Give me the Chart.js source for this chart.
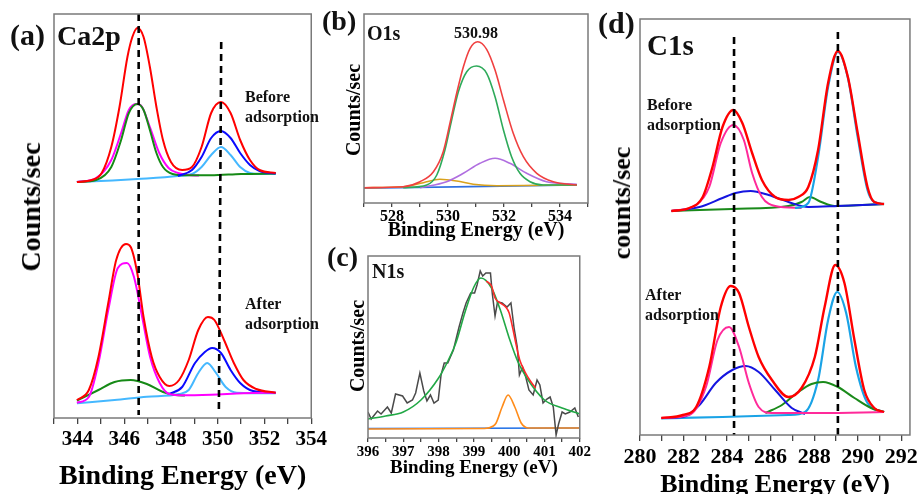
<!DOCTYPE html>
<html>
<head>
<meta charset="utf-8">
<script src="https://cdn.jsdelivr.net/npm/chart.js@4"></script>
<style>
  body { margin: 0; width: 921px; height: 494px; overflow: hidden; background: #fff; position: relative; }
  canvas { position: absolute; }
  .lbl { position: absolute; font-family: 'Liberation Serif', serif; font-weight: bold; white-space: nowrap; line-height: 1; color: #111; }
</style>
</head>
<body>
<canvas id="chart-ca" width="330" height="494" style="left:0;top:0"></canvas>
<canvas id="chart-o" width="262" height="242" style="left:330px;top:0"></canvas>
<canvas id="chart-n" width="256" height="254" style="left:336px;top:240px"></canvas>
<canvas id="chart-c" width="331" height="500" style="left:590px;top:0"></canvas>
<script>
// ==================== DATA ====================
// (a) Ca2p — [binding energy, counts] (arbitrary offset units)
const caTicks = [343, 344, 345, 346, 347, 348, 349, 350, 351, 352, 353, 354];
const caBeforeTotal = [[343.98,236],[344.62,238],[345.04,245],[345.45,271],[345.8,311],[346.14,361],[346.35,381],[346.57,390],[346.83,381],[347.1,351],[347.38,311],[347.66,278],[348.0,256],[348.48,248],[348.9,251],[349.31,271],[349.72,305],[350.14,316],[350.55,305],[350.96,278],[351.38,258],[351.79,248],[352.48,245]];
const caBeforeP1 = [[343.98,236],[344.8,240],[345.45,258],[345.87,285],[346.2,308],[346.5,314],[346.7,313],[347.1,291],[347.5,265],[347.9,250],[348.3,245],[348.7,243],[349.2,242.5]];
const caBeforeP2 = [[343.98,236],[344.8,238],[345.45,251],[345.87,278],[346.2,305],[346.57,314],[346.83,308],[347.1,288],[347.38,265],[347.66,251],[348.07,244],[348.6,242.7],[349.7,242.7],[351.0,244],[352.48,244.5]];
const caBeforeP3 = [[348.3,242],[348.9,248],[349.31,261],[349.72,280],[350.14,287],[350.55,280],[350.96,265],[351.38,253],[351.79,247],[352.48,244.5]];
const caBeforeP4 = [[343.98,236],[345.5,237.5],[346.57,239],[348.3,242],[348.9,244],[349.31,251],[349.72,263],[350.14,271],[350.55,263],[350.96,251],[351.38,245],[351.79,244],[352.48,244]];
const caAfterTotal = [[343.98,18],[344.49,28],[344.9,61],[345.32,115],[345.66,158],[346.08,174],[346.28,171],[346.56,145],[346.83,101],[347.18,61],[347.52,41],[347.93,32],[348.35,38],[348.76,58],[349.17,88],[349.58,101],[349.86,98],[350.27,78],[350.69,55],[351.1,38],[351.65,29],[352.48,25.3]];
const caAfterP1 = [[343.98,15.3],[344.49,21],[344.9,55],[345.32,108],[345.73,150],[346.12,155],[346.42,141],[346.77,101],[347.11,61],[347.52,35],[347.93,24],[348.48,22.7],[349.72,23.3],[351.1,24.7],[352.48,25.3]];
const caAfterP2 = [[343.98,17.3],[344.9,28],[345.59,36],[346.28,38],[346.97,34],[347.66,26],[348.21,23],[348.6,22.5]];
const caAfterP3 = [[347.93,24],[348.48,31],[349.03,55],[349.45,66],[349.76,70],[350.14,65],[350.55,48],[350.96,35],[351.51,27],[352.48,25.3]];
const caAfterP4 = [[343.98,14.7],[345.59,18],[346.97,21.3],[348.35,24],[348.76,28],[349.17,45],[349.55,55],[349.93,45],[350.34,31],[350.82,25.3],[352.48,24.7]];
const caMarkLeft = [[346.62,404],[346.62,3]];
const caMarkRight = [[350.15,376],[350.05,8]];

// (b) O1s
const oTicks = [527, 528, 529, 530, 531, 532, 533, 534, 535];
const oTotal = [[527.0,15.3],[528.4,16.3],[529.0,21.3],[529.48,31.3],[529.83,51.3],[530.07,79.7],[530.31,109.7],[530.55,136.3],[530.79,154.7],[531.06,161.3],[531.38,153.7],[531.68,133],[531.98,103],[532.33,69.7],[532.69,46.3],[533.17,29.7],[533.76,21.3],[534.6,18]];
const oLattice = [[528.4,15.3],[529.24,18],[529.6,28],[529.89,53],[530.13,83],[530.37,111.3],[530.67,131.3],[531.02,137],[531.38,129.7],[531.68,106.3],[531.98,73],[532.27,46.3],[532.57,29.7],[532.93,21.3],[533.4,18],[534.6,18]];
const oHydroxyl = [[529.0,15.3],[529.95,21.3],[530.55,29.7],[531.14,39.7],[531.68,44.7],[532.21,39.7],[532.81,29.7],[533.52,21.3],[534.6,18.7]];
const oLow = [[527.0,15.3],[528.4,16.3],[529.12,20.3],[529.71,23.7],[530.31,22],[530.9,18.7],[531.74,17.3],[534.6,18]];
const oBase = [[527.0,14.7],[534.6,18]];

// (c) N1s
const nTicks = [396, 396.5, 397, 397.5, 398, 398.5, 399, 399.5, 400, 400.5, 401, 401.5, 402];
const nRaw = [[396.0,26],[396.09,19],[396.27,27],[396.37,24],[396.55,31],[396.66,25],[396.78,44],[396.98,42],[397.11,35],[397.26,38],[397.35,45],[397.47,65],[397.58,47],[397.67,37],[397.77,43],[397.87,35],[397.99,38],[398.07,63],[398.16,75],[398.26,75],[398.42,88],[398.51,101],[398.58,111],[398.69,125],[398.78,135],[398.91,145],[399.02,145],[399.09,153],[399.18,167],[399.25,162],[399.34,165],[399.47,165],[399.52,145],[399.6,122],[399.67,136],[399.8,135],[399.94,131],[400.05,135],[400.14,110],[400.23,91],[400.29,63],[400.38,71],[400.47,61],[400.56,48],[400.68,43],[400.79,58],[400.87,53],[400.96,35],[401.07,39],[401.16,41],[401.25,31],[401.33,3],[401.4,14],[401.5,26],[401.59,24],[401.72,26],[401.86,30],[401.96,21]];
const nFitMain = [[396.0,19],[396.5,22],[397.0,26],[397.5,38],[398.0,60],[398.25,76],[398.5,96],[398.75,126],[399.0,151],[399.2,160],[399.5,150],[399.75,128],[400.0,100],[400.25,76],[400.5,60],[401.0,38],[401.5,30],[402.0,24]];
const nEnvelope = [[399.35,157],[399.5,152],[399.6,140],[399.75,135],[399.9,131],[400.0,125],[400.1,110],[400.2,93],[400.3,78],[400.45,66],[400.6,57],[400.75,50]];
const nFitMinor = [[396.0,9],[399.3,9.5],[399.55,12],[399.63,15],[399.8,31],[399.97,43],[400.16,31],[400.34,15],[400.45,11],[400.55,10],[402.0,10]];
const nBase = [[396.0,9.5],[402.0,10]];

// (d) C1s
const cTicks = [280, 281, 282, 283, 284, 285, 286, 287, 288, 289, 290, 291, 292];
const cBeforeTotal = [[281.44,224],[282.27,227],[282.88,238],[283.33,268],[283.79,308],[284.29,325],[284.7,312],[285.15,282],[285.6,255],[286.21,238],[286.82,235],[287.27,238],[287.73,248],[288.18,285],[288.64,352],[289.09,384],[289.55,358],[290.0,302],[290.45,248],[290.76,233],[291.21,231]];
const cBeforeP1 = [[281.44,224],[282.58,230],[283.18,248],[283.71,292],[284.29,310],[284.77,295],[285.15,262],[285.6,238],[286.21,229],[287.42,227]];
const cBeforeP2 = [[281.44,224],[282.73,228],[283.79,237],[284.39,242],[285.08,244],[285.91,240],[286.82,233],[287.73,228],[289.09,229],[291.21,231]];
const cBeforeP3 = [[281.44,224],[284.24,226],[286.82,229],[287.42,233],[287.8,238],[288.33,233],[288.94,229],[291.21,231]];
const cBeforeP4 = [[287.12,227],[287.73,232],[288.18,278],[288.64,348],[289.09,383],[289.55,357],[290.0,298],[290.45,245],[290.76,233],[291.21,231]];
const cAfterTotal = [[280.98,17],[281.97,20],[282.58,28],[283.18,68],[283.71,128],[284.17,149],[284.55,142],[285.0,108],[285.45,78],[286.06,55],[286.82,38],[287.42,47],[288.03,78],[288.48,128],[288.97,170],[289.39,152],[289.85,95],[290.3,45],[290.76,27],[291.21,23]];
const cAfterP1 = [[280.98,17],[282.27,20],[283.03,48],[283.56,95],[284.09,108],[284.55,88],[285.0,52],[285.45,28],[286.06,22],[288.33,22],[291.21,23]];
const cAfterP2 = [[280.98,17],[281.97,18],[282.73,30],[283.48,52],[284.24,65],[284.85,69],[285.45,63],[286.21,45],[286.97,27],[287.58,21]];
const cAfterP3 = [[285.76,22],[286.52,30],[287.27,43],[287.88,51],[288.41,53],[289.09,48],[289.85,37],[290.61,27],[291.21,23]];
const cAfterP4 = [[280.98,16.7],[283.79,18],[286.82,20],[287.58,23],[288.18,55],[288.64,115],[289.06,143],[289.47,122],[289.92,68],[290.45,32],[291.21,23]];
const cMarkLeft = [[284.32,398],[284.32,0]];
const cMarkRight = [[289.09,403],[289.09,0]];

// ==================== HELPERS ====================
const SERIF = "'Liberation Serif', 'Times New Roman', serif";

const framePlugin = {
  id: 'frame',
  afterDraw(chart) {
    const { ctx, chartArea: a } = chart;
    ctx.save();
    ctx.strokeStyle = '#7a7a7a';
    ctx.lineWidth = 1.5;
    ctx.strokeRect(a.left, a.top, a.right - a.left, a.bottom - a.top);
    ctx.restore();
  }
};

function curve(points, color, width = 2) {
  return {
    data: points.map(([x, y]) => ({ x, y })),
    borderColor: color,
    borderWidth: width,
    pointRadius: 0,
    fill: false,
    cubicInterpolationMode: 'monotone'
  };
}

function jagged(points, color, width = 1.6) {
  return { ...curve(points, color, width), cubicInterpolationMode: 'default', tension: 0 };
}

function dashed(points) {
  return { ...jagged(points, '#000', 2.6), borderDash: [7, 5] };
}

function makePanel(canvasId, cfg, datasets) {
  const font = (size, lineHeight = 1) => ({ family: SERIF, weight: 'bold', size, lineHeight });
  return new Chart(document.getElementById(canvasId), {
    type: 'line',
    data: { datasets },
    options: {
      responsive: false,
      animation: false,
      layout: { padding: cfg.pad },
      plugins: { legend: { display: false }, tooltip: { enabled: false } },
      scales: {
        x: {
          type: 'linear',
          min: cfg.xmin,
          max: cfg.xmax,
          afterBuildTicks: s => { s.ticks = cfg.ticks.map(v => ({ value: v })); },
          ticks: {
            autoSkip: false,
            maxRotation: 0,
            color: '#000',
            padding: cfg.tickPad,
            font: font(cfg.tickSize, 1.2),
            callback: v => (cfg.labelled(v) ? String(v) : '')
          },
          grid: { drawOnChartArea: false, tickLength: cfg.tickLen, color: '#444', lineWidth: 1.3 },
          border: { display: false },
          title: {
            display: true, text: 'Binding Energy (eV)', color: '#000',
            font: font(cfg.xTitleSize), padding: { top: 0, bottom: cfg.xTitlePad }
          },
          afterFit: s => { s.height = cfg.xh; }
        },
        y: {
          min: 0,
          max: cfg.ymax,
          ticks: { display: false },
          grid: { display: false },
          border: { display: false },
          afterFit: s => { s.width = cfg.yw; }
        }
      }
    },
    plugins: [framePlugin]
  });
}

const even = v => v % 2 === 0;
const whole = v => Number.isInteger(v);

// ==================== PANELS ====================
makePanel('chart-ca', {
  pad: { top: 14, right: 10, left: 0, bottom: 0 }, xh: 76, yw: 54,
  xmin: 343, xmax: 354, ymax: 404, ticks: caTicks, labelled: even,
  tickSize: 21, tickPad: 3, tickLen: 6, xTitleSize: 28, xTitlePad: 3
}, [
  dashed(caMarkLeft), dashed(caMarkRight),
  curve(caBeforeTotal, '#ff0000'), curve(caBeforeP3, '#0a0aff'), curve(caBeforeP2, '#168a16'),
  curve(caBeforeP1, '#ff00ff'), curve(caBeforeP4, '#45b8ff'),
  curve(caAfterTotal, '#ff0000'), curve(caAfterP1, '#ff00ff'), curve(caAfterP3, '#0a0aff'),
  curve(caAfterP2, '#168a16'), curve(caAfterP4, '#45b8ff')
]);

makePanel('chart-o', {
  pad: { top: 14, right: 4, left: 0, bottom: 0 }, xh: 39, yw: 34,
  xmin: 527, xmax: 535, ymax: 189, ticks: oTicks, labelled: even,
  tickSize: 16, tickPad: 0, tickLen: 4, xTitleSize: 20, xTitlePad: 1
}, [
  curve(oTotal, '#f04040', 1.6), curve(oLattice, '#2eaa5a', 1.6), curve(oHydroxyl, '#b06ee0', 1.6),
  curve(oLow, '#d9a21c', 1.6), curve(oBase, '#2f6fe0', 1.6)
]);

makePanel('chart-n', {
  pad: { top: 16, right: 0, left: 0, bottom: 0 }, xh: 56, yw: 32,
  xmin: 396, xmax: 402, ymax: 182, ticks: nTicks, labelled: whole,
  tickSize: 15, tickPad: 1, tickLen: 4, xTitleSize: 19, xTitlePad: 16
}, [
  curve(nEnvelope, '#ff2a2a', 1.6), curve(nFitMain, '#22a846', 1.6), jagged(nRaw, '#4a4a4a', 1.5),
  curve(nFitMinor, '#ff8c1a', 1.6), curve(nBase, '#1f6fe6', 1.6)
]);

makePanel('chart-c', {
  pad: { top: 19, right: 8, left: 0, bottom: 0 }, xh: 65, yw: 50,
  xmin: 280, xmax: 292.4, ymax: 416, ticks: cTicks, labelled: even,
  tickSize: 22, tickPad: 3, tickLen: 6, xTitleSize: 26, xTitlePad: 2
}, [
  dashed(cMarkLeft), dashed(cMarkRight),
  curve(cBeforeTotal, '#ff0000', 2.4), curve(cBeforeP4, '#1aa3e6', 2.2), curve(cBeforeP1, '#ff2a9a'),
  curve(cBeforeP2, '#1515e0'), curve(cBeforeP3, '#1a8a1a'),
  curve(cAfterTotal, '#ff0000', 2.4), curve(cAfterP1, '#ff2a9a'), curve(cAfterP2, '#1515e0'),
  curve(cAfterP3, '#1a8a1a'), curve(cAfterP4, '#1aa3e6', 2.2)
]);

// ==================== PANEL TEXT ====================
// [text, left x, baseline y, font size, centred]
const labels = [
  ['(a)', 10, 45, 30], ['Ca2p', 57, 46, 28],
  ['Before', 245, 102, 16], ['adsorption', 245, 122, 16],
  ['After', 245, 309, 16], ['adsorption', 245, 329, 16],
  ['(b)', 322, 31, 28], ['O1s', 367, 40, 20], ['530.98', 476, 38, 16, true],
  ['(c)', 327, 267, 28], ['N1s', 372, 278, 20],
  ['(d)', 598, 33, 30], ['C1s', 647, 55, 29],
  ['Before', 647, 110, 16], ['adsorption', 647, 130, 16],
  ['After', 645, 300, 16], ['adsorption', 645, 320, 16]
];
labels.forEach(([text, x, base, size, centred]) => {
  const el = document.createElement('div');
  el.className = 'lbl';
  el.textContent = text;
  el.style.fontSize = size + 'px';
  el.style.top = (base - 0.84 * size) + 'px';
  el.style.left = x + 'px';
  if (centred) el.style.transform = 'translateX(-50%)';
  document.body.appendChild(el);
});

// rotated y-axis titles: [text, centre x, centre y, font size]
const yTitles = [
  ['Counts/sec', 31, 207, 28],
  ['Counts/sec', 353, 110, 20],
  ['Counts/sec', 357, 346, 20],
  ['counts/sec', 622, 203, 26]
];
yTitles.forEach(([text, cx, cy, size]) => {
  const el = document.createElement('div');
  el.className = 'lbl';
  el.textContent = text;
  el.style.fontSize = size + 'px';
  el.style.color = '#000';
  el.style.left = cx + 'px';
  el.style.top = cy + 'px';
  el.style.transform = 'translate(-50%, -50%) rotate(-90deg)';
  document.body.appendChild(el);
});
</script>
</body>
</html>
